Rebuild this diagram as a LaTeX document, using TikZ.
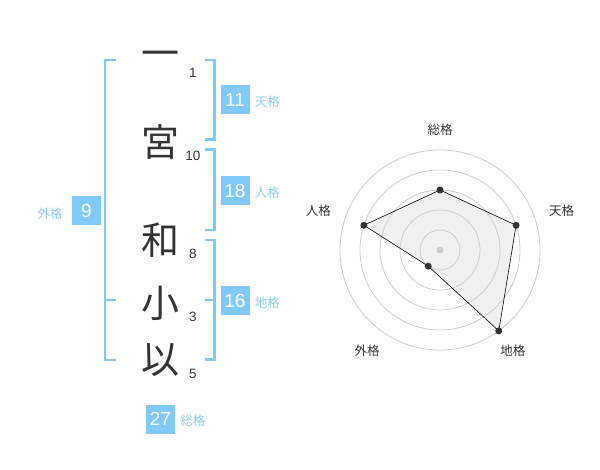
\documentclass[tikz,border=0pt]{standalone}
\usepackage{fontspec}
\setmainfont{Liberation Sans}
\newfontfamily\jpfont{Noto Sans CJK JP}
\usetikzlibrary{positioning, calc}
\definecolor{KakuBlue}{RGB}{128,202,250}
\definecolor{KakuLabel}{RGB}{140,205,245}
\definecolor{InkGray}{RGB}{51,51,51}
\definecolor{RingGray}{RGB}{205,205,205}
\definecolor{RadarFill}{RGB}{240,240,240}

\begin{document}
\begin{tikzpicture}[x=1pt, y=-1pt]
        \tikzstyle{kanji} = [text=InkGray, font=\jpfont\fontsize{38}{38}\selectfont, inner sep=0pt]
        \tikzstyle{strokes} = [text=InkGray, font=\fontsize{13.5}{13.5}\selectfont, inner sep=0pt]
        \tikzstyle{score} = [fill=KakuBlue, text=white, minimum size=29pt, inner sep=0pt,
          font=\fontsize{19}{19}\selectfont]
        \tikzstyle{kaku} = [text=KakuLabel, font=\jpfont\fontsize{12.5}{12.5}\selectfont, inner sep=0pt]
        \tikzstyle{bracket} = [draw=KakuBlue, line width=2.5pt]
        \tikzstyle{ring} = [draw=RingGray, line width=0.8pt]
        \tikzstyle{axis} = [text=InkGray, font=\jpfont\fontsize{12.5}{12.5}\selectfont, inner sep=0pt]
        \tikzstyle{dot} = [circle, fill=InkGray, inner sep=0pt, minimum size=7pt]

        \useasboundingbox (0,0) rectangle (600,470);

        % name and stroke counts
        \foreach \n/\ch/\y/\s in {c1/一/59/1, c2/宮/142/10, c3/和/240/8, c4/小/303/3, c5/以/360/5} {
          \node[kanji] (\n) at (160,\y) {\ch};
          \node[strokes] (\n-s) at (193,\y+13.5) {\s};
        }

        % brackets
        \draw[bracket] (116,60) -- (105,60) -- (105,360) -- (116,360);
        \draw[bracket] (105,300) -- (116,300);
        \draw[bracket] (205,60) -- (214.5,60) -- (214.5,139.5) -- (205,139.5);
        \draw[bracket] (205,149.5) -- (214.5,149.5) -- (214.5,230) -- (205,230);
        \draw[bracket] (205,240) -- (214.5,240) -- (214.5,359.5) -- (205,359.5);
        \draw[bracket] (205,300) -- (214.5,300);

        % scores
        \node[score] (ten) at (235,100) {11};
        \node[kaku, right=5pt of ten, yshift=-2pt] (ten-l) {天格};
        \node[score] (jin) at (235,190.5) {18};
        \node[kaku, right=5pt of jin, yshift=-2pt] (jin-l) {人格};
        \node[score] (chi) at (235,300.5) {16};
        \node[kaku, right=5pt of chi, yshift=-2pt] (chi-l) {地格};
        \node[score] (gai) at (86.5,210.5) {9};
        \node[kaku, left=9pt of gai, yshift=-3pt] (gai-l) {外格};
        \node[score] (sou) at (160.5,419) {27};
        \node[kaku, right=5pt of sou, yshift=-2pt] (sou-l) {総格};

        % radar
        \coordinate (rc) at (440,250);
        \foreach \k/\a/\v/\d/\lab in {sou/-90/60/120/総格, ten/-18/80/128/天格, chi/54/100/124/地格,
                                      gai/126/20/124/外格, jin/198/80/128/人格} {
          \coordinate (p-\k) at ($(rc)+(\a:\v)$);
          \node[axis] (ax-\k) at ($(rc)+(\a:\d)$) {\lab};
        }
        \fill[RadarFill] (p-sou) -- (p-ten) -- (p-chi) -- (p-gai) -- (p-jin) -- cycle;
        \foreach \r in {20,40,...,100}
          \draw[ring] (rc) circle (\r);
        \node[circle, fill=RingGray, inner sep=0pt, minimum size=7pt] (rc-dot) at (rc) {};
        \draw[black, line width=0.6pt]
          (p-sou) -- (p-ten) -- (p-chi) -- (p-gai) -- (p-jin) -- cycle;
        \foreach \k in {sou,ten,chi,gai,jin}
          \node[dot] (d-\k) at (p-\k) {};
\end{tikzpicture}
\end{document}
